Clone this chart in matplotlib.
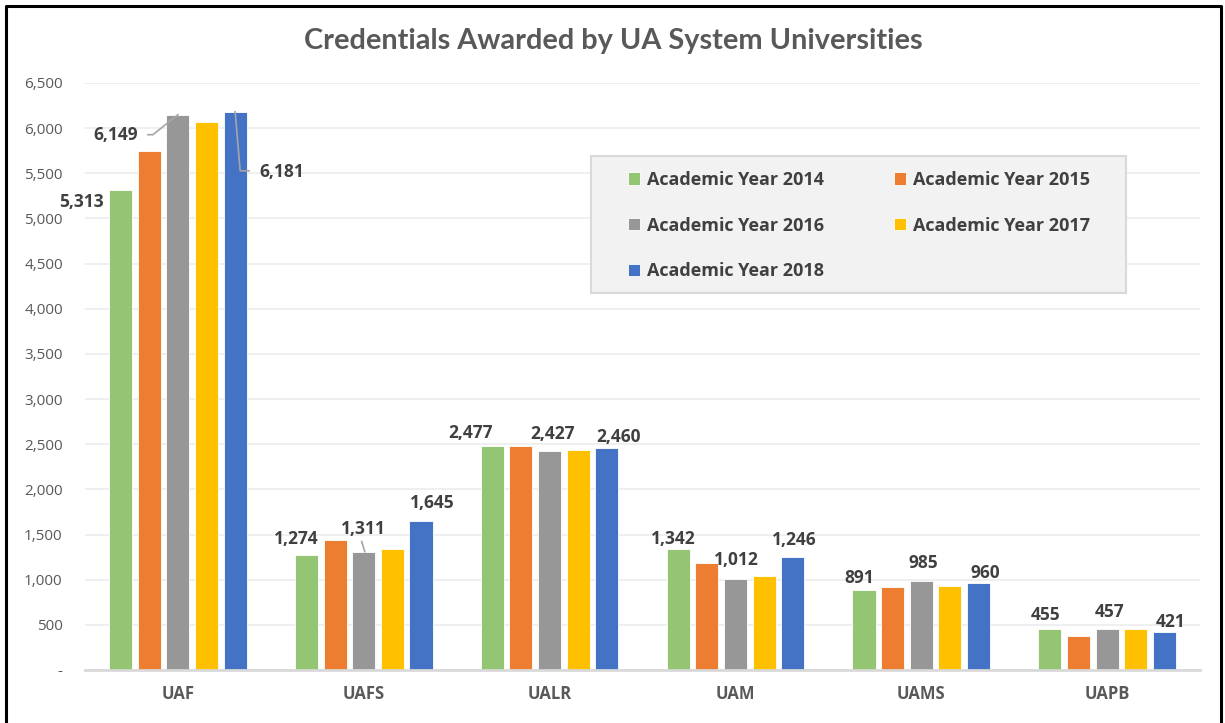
import matplotlib.pyplot as plt
import numpy as np
from matplotlib.transforms import IdentityTransform
from matplotlib.lines import Line2D
from matplotlib.patches import Rectangle

# ---------------- data ----------------
universities = ["UAF", "UAFS", "UALR", "UAM", "UAMS", "UAPB"]
years = ["Academic Year 2014", "Academic Year 2015", "Academic Year 2016",
         "Academic Year 2017", "Academic Year 2018"]
ay2014 = [5313, 1274, 2477, 1342, 891, 455]
ay2015 = [5746, 1437, 2475, 1185, 922, 374]
ay2016 = [6149, 1311, 2427, 1012, 985, 457]
ay2017 = [6070, 1342, 2435, 1040, 933, 452]
ay2018 = [6181, 1645, 2460, 1246, 960, 421]
series = [ay2014, ay2015, ay2016, ay2017, ay2018]
colors = ["#93c572", "#ed7d31", "#979797", "#ffc000", "#4472c4"]

# only these years carry data labels in the original
labelled = [0, 2, 4]
# label offsets (pixels, y up) from bar top centre, per labelled series
label_off = {
    0: [(-39, -12), (-10, 16), (-22, 13), (-5, 10), (-5, 12), (-4, 14)],
    2: [(-62, -20), (0, 23), (3, 17), (1, 19), (2, 18), (2, 17)],
    4: [(47, -60), (11, 18), (12, 11), (2, 17), (7, 10), (6, 10)],
}
# leader lines: (series, category) -> vertices as pixel offsets from bar top
leaders = {
    (2, 0): [(0, 0), (-25, -20), (-30, -20)],
    (4, 0): [(0, 0), (5, -59), (14, -59)],
    (2, 1): [(1, 0), (-2, 10)],
}

W, H = 1225, 723
FONT = "Open Sans"
fig = plt.figure(figsize=(W / 100, H / 100), dpi=100)
ax = fig.add_axes([85 / W, 1 - 670 / H, (1200 - 85) / W, (670 - 83) / H])

x = np.arange(len(universities))
step = 0.154
width = 0.124
bars = []
for i, vals in enumerate(series):
    b = ax.bar(x + (i - 2) * step, vals, width, color=colors[i], label=years[i],
               zorder=3, edgecolor="white", linewidth=0.6)
    bars.append(b)

ax.set_xlim(-0.5, 5.5)
ax.set_ylim(0, 6500)
yt = np.arange(0, 6501, 500)
ax.set_yticks(yt)
ax.set_yticklabels(["-" if v == 0 else f"{v:,}" for v in yt],
                   fontsize=11, color="#595959", family=FONT)
ax.set_xticks(x)
ax.set_xticklabels(universities, fontsize=12, fontweight="bold",
                   color="#595959", family=FONT)
ax.tick_params(axis="both", length=0)
ax.tick_params(axis="y", pad=16)
ax.tick_params(axis="x", pad=11)
ax.grid(axis="y", color="#ececec", linewidth=1.2, zorder=0)
for s in ["top", "right", "left"]:
    ax.spines[s].set_visible(False)
ax.spines["bottom"].set_color("#d9d9d9")
ax.spines["bottom"].set_linewidth(2)
ax.spines["bottom"].set_zorder(4)

# data labels
for i in labelled:
    for j, v in enumerate(series[i]):
        dx, dy = label_off[i][j]
        ax.annotate(f"{v:,}", xy=(x[j] + (i - 2) * step, v), xytext=(dx, dy),
                    textcoords="offset pixels", ha="center", va="center",
                    fontsize=12.5, fontweight="bold", color="#404040",
                    family=FONT, zorder=5)

# leader lines in display pixels
fig.canvas.draw()
for (i, j), verts in leaders.items():
    bx, by = ax.transData.transform((x[j] + (i - 2) * step, series[i][j]))
    xs = [bx + vx for vx, vy in verts]
    ys = [by + vy for vx, vy in verts]
    fig.add_artist(Line2D(xs, ys, transform=IdentityTransform(),
                          color="#a6a6a6", linewidth=1.2, zorder=6))

# legend box drawn separately, legend content without frame
fig.add_artist(Rectangle((591 / W, 1 - 293 / H), (1126 - 591) / W, (293 - 156) / H,
                         transform=fig.transFigure, facecolor="#f2f2f2",
                         edgecolor="#d9d9d9", linewidth=1.5, zorder=4))
order = [0, 2, 4, 1, 3]
leg = fig.legend([bars[k] for k in order], [years[k] for k in order], ncol=2,
                 loc="upper left", bbox_to_anchor=(628 / W, 1 - 171 / H),
                 frameon=False, handlelength=0.68, handleheight=0.68,
                 columnspacing=3.9, labelspacing=1.53, borderpad=0,
                 handletextpad=0.35, borderaxespad=0,
                 prop={"family": FONT, "weight": "bold", "size": 13})
leg.set_zorder(5)
for t in leg.get_texts():
    t.set_color("#404040")

fig.text(613 / W, 1 - 41 / H, "Credentials Awarded by UA System Universities",
         ha="center", va="center", fontsize=20.8, fontweight="bold",
         color="#595959", family="Lato")

# outer black frame
fig.add_artist(Line2D([5.5 / W, 5.5 / W, 1220.5 / W, 1220.5 / W],
                      [0, 1 - 5.5 / H, 1 - 5.5 / H, 0],
                      transform=fig.transFigure, color="black", linewidth=2.2))

fig.savefig("out.png", dpi=100)
